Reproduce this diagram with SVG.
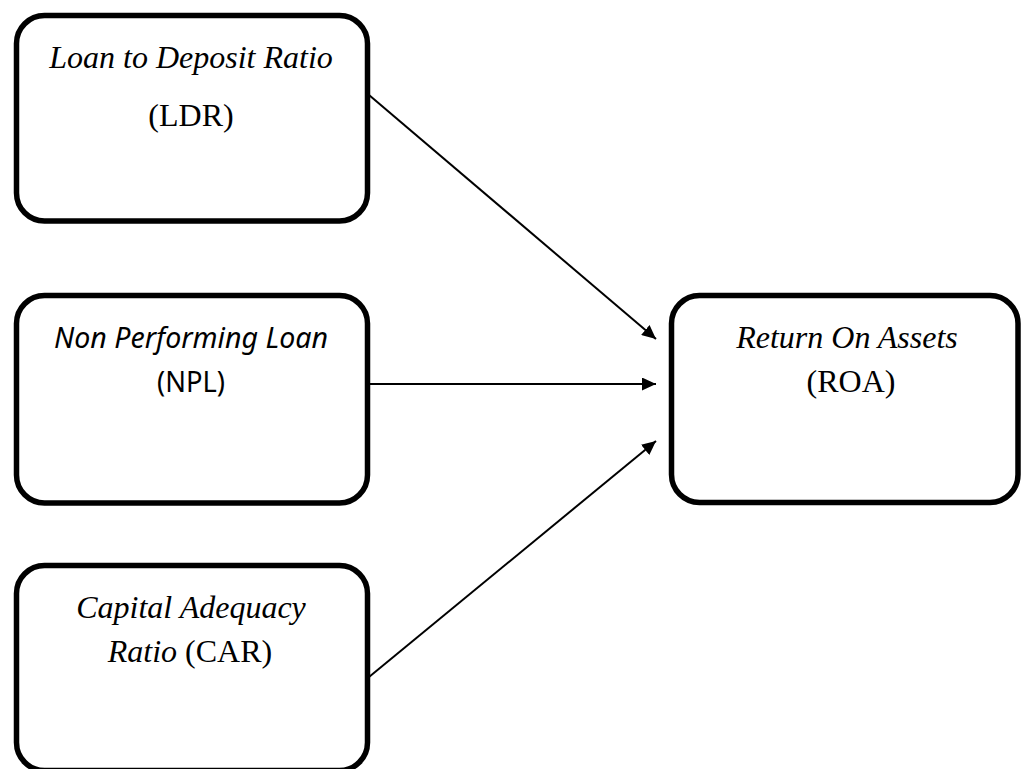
<svg xmlns="http://www.w3.org/2000/svg" width="1021" height="769" viewBox="0 0 1021 769">
  <style>
    .box { fill: #ffffff; stroke: #000000; stroke-width: 5.5; }
    .serif { font-family: "Liberation Serif", "Times New Roman", serif; font-size: 32px; fill: #000000; text-anchor: middle; }
    .sans { font-family: "Noto Sans", "Open Sans", sans-serif; font-size: 29px; fill: #000000; text-anchor: middle; }
    .it { font-style: italic; }
    .conn { stroke: #000000; stroke-width: 2; fill: none; }
  </style>
  <defs>
    <marker id="arrow" markerUnits="userSpaceOnUse" markerWidth="15" markerHeight="13" refX="14" refY="6.5" orient="auto">
      <path d="M0,0 L14,6.5 L0,13 z" fill="#000000"/>
    </marker>
  </defs>
  <rect width="1021" height="769" fill="#ffffff"/>

  <g id="node-ldr">
    <rect class="box" x="16.5" y="15.5" width="351" height="205.5" rx="28" ry="28"/>
    <text class="serif it" x="191" y="68">Loan to Deposit Ratio</text>
    <text class="serif" x="191" y="126">(LDR)</text>
  </g>

  <g id="node-npl">
    <rect class="box" x="16.5" y="295.5" width="351" height="207.5" rx="28" ry="28"/>
    <text class="sans it" x="191" y="348" textLength="274" lengthAdjust="spacingAndGlyphs">Non Performing Loan</text>
    <text class="sans" x="191" y="392" textLength="68" lengthAdjust="spacingAndGlyphs">(NPL)</text>
  </g>

  <g id="node-car">
    <rect class="box" x="16.5" y="565.5" width="351" height="205" rx="28" ry="28"/>
    <text class="serif it" x="191" y="618">Capital Adequacy</text>
    <text class="serif" x="190" y="662"><tspan class="it">Ratio</tspan> (CAR)</text>
  </g>

  <g id="node-roa">
    <rect class="box" x="671.5" y="295.5" width="346.5" height="207" rx="28" ry="28"/>
    <text class="serif it" x="847" y="348">Return On Assets</text>
    <text class="serif" x="851" y="392">(ROA)</text>
  </g>

  <g id="connectors">
    <line class="conn" x1="369" y1="95" x2="656" y2="339" marker-end="url(#arrow)"/>
    <line class="conn" x1="369" y1="384" x2="656" y2="384" marker-end="url(#arrow)"/>
    <line class="conn" x1="369" y1="677" x2="656" y2="441" marker-end="url(#arrow)"/>
  </g>
</svg>
